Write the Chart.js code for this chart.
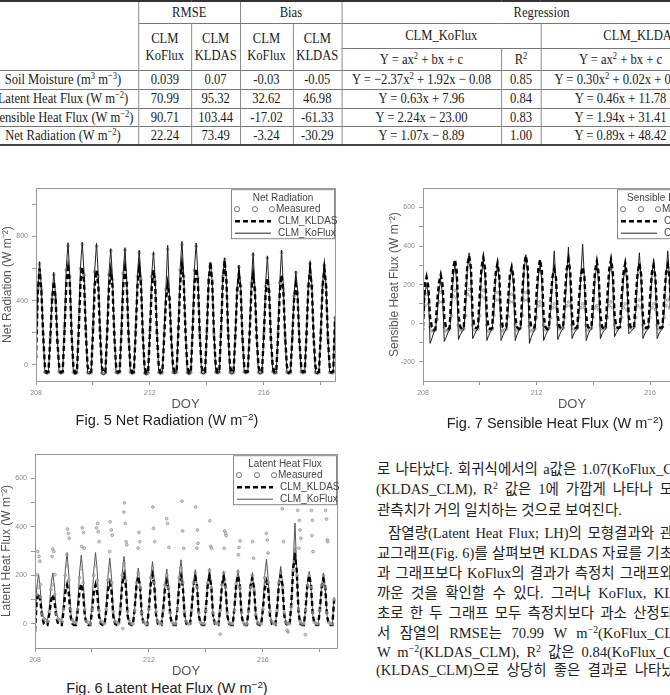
<!DOCTYPE html>
<html>
<head>
<meta charset="utf-8">
<script src="https://cdn.jsdelivr.net/npm/chart.js@4.4.1/dist/chart.umd.min.js"></script>
<style>
html,body{margin:0;padding:0;background:#fff;}
body{width:670px;height:695px;overflow:hidden;position:relative;}
.tbl{position:absolute;left:-12px;top:0;width:897px;border-collapse:collapse;table-layout:fixed;font-family:'Liberation Serif','Times New Roman',serif;font-size:15px;font-weight:normal;color:#1a1a1a;border-top:2px solid #333;border-bottom:2px solid #444;transform:scaleX(0.84);transform-origin:0 0;}
.tbl td{border:1px solid #777;padding:0;text-align:center;vertical-align:middle;white-space:nowrap;line-height:17px;}
.tbl td.lab{border-left:none;}
.tbl td .f{display:flex;justify-content:center;}
sup{font-size:0.68em;vertical-align:0.5em;line-height:0;}
canvas{position:absolute;}
.cap{position:absolute;font-family:'Liberation Sans',Arial,sans-serif;font-size:14.5px;color:#222;white-space:nowrap;transform:translateX(-50%);line-height:16px;}
.kr{position:absolute;font-family:'Liberation Serif','Noto Sans CJK KR',serif;font-size:14.5px;color:#222;white-space:nowrap;line-height:18px;}
.kr.j{text-align:justify;text-align-last:justify;white-space:normal;height:18px;}
</style>
</head>
<body>
<table class="tbl">
<colgroup><col style="width:179px"><col style="width:63px"><col style="width:58px"><col style="width:63px"><col style="width:58px"><col style="width:190px"><col style="width:47px"><col style="width:190px"><col style="width:49px"></colgroup>
<tr style="height:22px"><td class="lab" rowspan="3"></td><td colspan="2">RMSE</td><td colspan="2">Bias</td><td colspan="4">Regression</td></tr>
<tr style="height:25px"><td rowspan="2">CLM<br>KoFlux</td><td rowspan="2">CLM<br>KLDAS</td><td rowspan="2">CLM<br>KoFlux</td><td rowspan="2">CLM<br>KLDAS</td><td colspan="2">CLM_KoFlux</td><td colspan="2">CLM_KLDAS</td></tr>
<tr style="height:22px"><td>Y = ax<sup>2</sup> + bx + c</td><td>R<sup>2</sup></td><td>Y = ax<sup>2</sup> + bx + c</td><td>R<sup>2</sup></td></tr>
<tr style="height:19px"><td class="lab"><div class="f"><span>Soil Moisture (m<sup>3</sup> m<sup>−3</sup>)</span></div></td><td>0.039</td><td>0.07</td><td>-0.03</td><td>-0.05</td><td>Y = −2.37x<sup>2</sup> + 1.92x − 0.08</td><td>0.85</td><td>Y = 0.30x<sup>2</sup> + 0.02x + 0.04</td><td>0.60</td></tr>
<tr style="height:19px"><td class="lab"><div class="f"><span>Latent Heat Flux (W m<sup>−2</sup>)</span></div></td><td>70.99</td><td>95.32</td><td>32.62</td><td>46.98</td><td>Y = 0.63x + 7.96</td><td>0.84</td><td>Y = 0.46x + 11.78</td><td>0.80</td></tr>
<tr style="height:18px"><td class="lab"><div class="f"><span>Sensible Heat Flux (W m<sup>−2</sup>)</span></div></td><td>90.71</td><td>103.44</td><td>-17.02</td><td>-61.33</td><td>Y = 2.24x − 23.00</td><td>0.83</td><td>Y = 1.94x + 31.41</td><td>0.80</td></tr>
<tr style="height:19px"><td class="lab"><div class="f"><span>Net Radiation (W m<sup>−2</sup>)</span></div></td><td>22.24</td><td>73.49</td><td>-3.24</td><td>-30.29</td><td>Y = 1.07x − 8.89</td><td>1.00</td><td>Y = 0.89x + 48.42</td><td>0.98</td></tr>
</table>

<canvas id="c5" width="345" height="232" style="left:0;top:180px"></canvas>
<canvas id="c7" width="344" height="232" style="left:387px;top:180px"></canvas>
<canvas id="c6" width="348" height="233" style="left:-1px;top:446px"></canvas>

<div class="cap" style="left:167px;top:412px">Fig. 5 Net Radiation (W m<sup>−2</sup>)</div>
<div class="cap" style="left:555px;top:415px">Fig. 7 Sensible Heat Flux (W m<sup>−2</sup>)</div>
<div class="cap" style="left:167px;top:680px">Fig. 6 Latent Heat Flux (W m<sup>−2</sup>)</div>

<div class="kr j" style="left:377px;top:460px;width:296px">로 나타났다. 회귀식에서의 a값은 1.07(KoFlux_C</div>
<div class="kr j" style="left:376px;top:480px;width:297px">(KLDAS_CLM), R<sup>2</sup> 값은 1에 가깝게 나타나 모</div>
<div class="kr" style="left:377px;top:501px">관측치가 거의 일치하는 것으로 보여진다.</div>
<div class="kr j" style="left:388px;top:524px;width:285px">잠열량(Latent Heat Flux; LH)의 모형결과와 관</div>
<div class="kr j" style="left:377px;top:544px;width:296px">교그래프(Fig. 6)를 살펴보면 KLDAS 자료를 기초</div>
<div class="kr j" style="left:377px;top:564px;width:296px">과 그래프보다 KoFlux의 결과가 측정치 그래프와</div>
<div class="kr j" style="left:377px;top:584px;width:296px">까운 것을 확인할 수 있다. 그러나 KoFlux, KL</div>
<div class="kr j" style="left:377px;top:604px;width:296px">초로 한 두 그래프 모두 측정치보다 과소 산정되</div>
<div class="kr j" style="left:377px;top:624px;width:296px">서 잠열의 RMSE는 70.99 W m<sup>−2</sup>(KoFlux_CL</div>
<div class="kr j" style="left:377px;top:643px;width:296px">W m<sup>−2</sup>(KLDAS_CLM), R<sup>2</sup> 값은 0.84(KoFlux_C</div>
<div class="kr j" style="left:376px;top:661px;width:312px">(KLDAS_CLM)으로 상당히 좋은 결과로 나타났다</div>

<script>
// ---------- DATA ----------
const doyStart = 208;
const doyStep = 0.0625;
const xTickValues = [208, 210, 212, 214, 216, 218];
const xTickLabels = [208, 212, 216];
const legendNames = ['Measured', 'CLM_KLDAS', 'CLM_KoFlux'];

// Net Radiation (W m-2)
const nrYTicks = [0, 200, 400, 600, 800, 1000];
const nrYLabels = [0, 400, 800];
const nrKoFlux = [
  40, 470, 643, 480, 200, -50, -55, -50,
  170, 420, 577, 430, 160, -48, -52, -50,
  240, 600, 761, 560, 220, -50, -58, -52,
  250, 610, 765, 570, 230, -52, -55, -50,
  240, 590, 759, 560, 220, -55, -60, -52,
  230, 570, 724, 540, 210, -50, -52, -48,
  230, 580, 730, 520, 200, -48, -55, -50,
  220, 560, 714, 540, 210, -55, -62, -52,
  220, 560, 704, 530, 200, -50, -55, -50,
  200, 480, 745, 420, 180, -50, -53, -48,
  240, 600, 769, 560, 220, -52, -58, -50,
  240, 600, 759, 550, 210, -50, -55, -50,
  210, 540, 639, 520, 200, -48, -52, -48,
  220, 560, 667, 530, 190, -50, -55, -50,
  190, 480, 622, 500, 170, -48, -50, -46,
  210, 520, 700, 480, 180, -50, -55, -48,
  200, 500, 679, 470, 170, -45, -52, -50,
  210, 520, 714, 480, 170, -48, -55, -50,
  180, 440, 585, 460, 150, -46, -50, -48,
  200, 500, 643, 500, 180, -50, -55, -50,
  200, 500, 632, 490, 170, -48, -52, -50,
  300
];
const nrKLDAS = [
  40, 450, 600, 470, 190, -10, -45, -42,
  160, 400, 520, 420, 150, -8, -45, -40,
  200, 500, 600, 510, 190, -10, -48, -42,
  210, 510, 610, 520, 200, -10, -46, -42,
  200, 490, 590, 500, 190, -12, -48, -44,
  200, 480, 580, 490, 180, -10, -45, -40,
  200, 490, 600, 500, 180, -8, -46, -42,
  200, 490, 600, 500, 190, -10, -50, -44,
  200, 480, 590, 490, 180, -10, -46, -42,
  170, 400, 500, 420, 160, -8, -45, -40,
  210, 510, 620, 520, 200, -10, -48, -44,
  210, 500, 600, 510, 190, -10, -46, -42,
  210, 520, 640, 520, 190, -8, -45, -40,
  220, 530, 650, 520, 190, -10, -46, -42,
  180, 460, 560, 470, 170, -8, -44, -40,
  180, 460, 560, 460, 170, -10, -46, -42,
  180, 440, 540, 450, 160, -8, -45, -42,
  180, 460, 560, 460, 170, -10, -46, -42,
  170, 410, 500, 420, 150, -8, -44, -40,
  190, 480, 590, 480, 170, -10, -46, -42,
  190, 490, 600, 490, 170, -10, -45, -40,
  290
];
const nrMeasured = [
  50, 480, 630, 470, 190, -45, -50, -48,
  170, 410, 560, 420, 150, -44, -50, -46,
  230, 590, 740, 550, 210, -46, -52, -48,
  240, 600, 750, 560, 220, -48, -52, -48,
  230, 580, 740, 550, 210, -50, -55, -50,
  220, 560, 710, 530, 200, -46, -50, -46,
  220, 570, 715, 510, 195, -45, -52, -48,
  210, 550, 700, 530, 200, -50, -56, -50,
  210, 550, 690, 520, 195, -46, -52, -48,
  190, 470, 720, 410, 175, -46, -50, -46,
  230, 590, 750, 550, 210, -48, -54, -48,
  230, 590, 740, 540, 205, -46, -52, -48,
  200, 530, 630, 510, 195, -45, -50, -46,
  210, 550, 655, 520, 185, -46, -52, -48,
  185, 470, 610, 490, 165, -45, -48, -45,
  200, 510, 685, 470, 175, -46, -52, -46,
  195, 490, 665, 460, 165, -42, -50, -48,
  200, 510, 700, 470, 165, -45, -52, -48,
  175, 430, 575, 450, 145, -44, -48, -46,
  195, 490, 630, 490, 175, -46, -52, -48,
  195, 490, 620, 480, 165, -45, -50, -48,
  295
];

// Sensible Heat Flux (W m-2)
const shYTicks = [-200, -100, 0, 100, 200, 300, 400, 500, 600];
const shYLabels = [-200, 0, 200, 400, 600];
const shKoFlux = [
  -40, 150, 200, 150, -105, -80, -50, -35,
  40, 170, 220, 150, -95, -75, -50, -35,
  60, 240, 300, 220, -85, -60, -45, -30,
  70, 280, 365, 250, -80, -60, -40, -30,
  70, 260, 320, 240, -90, -65, -45, -30,
  60, 240, 300, 220, -90, -65, -45, -30,
  60, 230, 280, 210, -90, -60, -40, -30,
  70, 280, 355, 250, -105, -75, -50, -35,
  60, 240, 300, 220, -90, -65, -45, -30,
  60, 220, 375, 200, -85, -60, -40, -30,
  60, 240, 395, 220, -80, -55, -40, -30,
  60, 250, 410, 230, -90, -60, -40, -30,
  60, 240, 300, 220, -80, -55, -40, -30,
  60, 250, 320, 220, -70, -50, -35, -25,
  60, 230, 290, 210, -55, -45, -35, -25,
  60, 250, 365, 220, -80, -55, -40, -30,
  60, 240, 335, 220, -80, -55, -40, -30,
  60, 250, 375, 220, -75, -55, -40, -30,
  60, 240, 330, 220, -70, -50, -35, -25,
  60, 230, 320, 210, -70, -50, -35, -25,
  60, 240, 340, 220, -70, -50, -35, -25,
  60
];
const shKLDAS = [
  -20, 200, 240, 190, 30, -20, -35, -30,
  110, 210, 250, 200, 30, -25, -30, -25,
  150, 280, 330, 270, 40, -20, -30, -25,
  160, 300, 350, 290, 40, -20, -25, -20,
  150, 290, 340, 280, 40, -25, -30, -25,
  140, 260, 310, 250, 35, -20, -25, -20,
  130, 250, 290, 240, 30, -20, -30, -25,
  160, 300, 350, 290, 40, -20, -25, -20,
  150, 280, 330, 270, 40, -20, -30, -25,
  130, 240, 280, 230, 35, -20, -25, -20,
  150, 280, 330, 270, 40, -20, -25, -20,
  130, 250, 290, 240, 35, -20, -25, -20,
  140, 270, 320, 260, 40, -20, -30, -25,
  150, 280, 330, 270, 40, -20, -25, -20,
  140, 260, 310, 250, 35, -20, -25, -20,
  140, 260, 310, 250, 35, -20, -25, -20,
  130, 260, 300, 240, 35, -20, -25, -20,
  130, 260, 300, 240, 35, -20, -25, -20,
  130, 260, 300, 240, 35, -20, -25, -20,
  130, 260, 300, 240, 35, -20, -25, -20,
  130, 260, 300, 240, 35, -20, -25, -20,
  120
];
const shMeasured = [
  -30, 90, 150, 100, -20, -40, -40, -35,
  20, 110, 160, 110, -20, -40, -35, -30,
  40, 140, 170, 130, -10, -35, -35, -30,
  40, 150, 175, 140, -10, -35, -30, -30,
  40, 140, 170, 130, -10, -40, -35, -30,
  40, 120, 160, 120, -10, -40, -35, -30,
  35, 110, 150, 110, -10, -35, -30, -25,
  40, 120, 160, 120, -15, -40, -35, -30,
  30, 90, 110, 90, -10, -35, -30, -25,
  30, 80, 100, 80, -10, -30, -30, -25,
  30, 90, 110, 90, -10, -30, -30, -25,
  30, 80, 100, 80, -10, -35, -30, -25,
  30, 80, 90, 70, -10, -30, -25, -25,
  30, 90, 110, 80, -10, -30, -25, -20,
  30, 80, 100, 70, -10, -25, -25, -20,
  30, 90, 120, 80, -10, -30, -25, -20,
  30, 80, 100, 70, -10, -30, -25, -20,
  30, 90, 120, 80, -10, -30, -25, -20,
  30, 80, 100, 70, -10, -25, -25, -20,
  30, 80, 100, 70, -10, -25, -25, -20,
  30, 80, 100, 70, -10, -25, -25, -20,
  30
];

// Latent Heat Flux (W m-2)
const lhYTicks = [0, 100, 200, 300, 400, 500, 600];
const lhYLabels = [0, 200, 400, 600];
const lhKoFlux = [
  -40, 150, 205, 140, 40, 25, 20, 15,
  60, 160, 210, 150, 40, 25, 20, 10,
  80, 220, 294, 200, 50, 10, 5, 0,
  80, 210, 284, 200, 40, 5, 0, 0,
  80, 220, 294, 210, 40, 5, 0, 0,
  70, 200, 271, 190, 40, 5, 0, 0,
  70, 210, 278, 190, 40, 5, 0, 0,
  60, 170, 230, 160, 35, 5, 0, 0,
  70, 190, 257, 180, 40, 5, 0, 0,
  60, 170, 226, 160, 35, 5, 0, 0,
  70, 200, 264, 180, 40, 5, 0, 0,
  60, 170, 223, 160, 35, 5, 0, 0,
  60, 175, 230, 160, 35, 5, 0, 0,
  60, 165, 216, 150, 35, 5, 0, 0,
  60, 170, 223, 155, 35, 5, 0, 0,
  55, 155, 203, 145, 30, 5, 0, 0,
  70, 200, 267, 180, 40, 5, 0, 0,
  60, 180, 237, 165, 35, 5, 0, 0,
  80, 250, 416, 220, 50, 5, 0, 0,
  60, 165, 216, 150, 35, 5, 0, 0,
  60, 160, 210, 150, 35, 5, 0, 0,
  110
];
const lhKLDAS = [
  -30, 100, 125, 95, 30, 0, -5, -5,
  40, 95, 120, 90, 25, 0, -5, -5,
  50, 130, 160, 125, 30, 0, -5, -5,
  55, 135, 165, 130, 30, 0, -5, -5,
  50, 130, 160, 125, 30, 0, -5, -5,
  55, 140, 170, 135, 30, 0, -5, -5,
  65, 165, 200, 160, 35, 0, -5, -5,
  65, 160, 195, 155, 35, 0, -5, -5,
  65, 165, 200, 160, 35, 0, -5, -5,
  60, 145, 175, 140, 30, 0, -5, -5,
  65, 160, 195, 155, 35, 0, -5, -5,
  65, 160, 195, 155, 35, 0, -5, -5,
  65, 160, 195, 155, 35, 0, -5, -5,
  65, 160, 195, 155, 35, 0, -5, -5,
  65, 165, 200, 160, 35, 0, -5, -5,
  60, 155, 190, 150, 35, 0, -5, -5,
  60, 145, 175, 140, 30, 0, -5, -5,
  65, 165, 200, 160, 35, 0, -5, -5,
  90, 230, 280, 220, 45, 0, -5, -5,
  65, 165, 200, 160, 35, 0, -5, -5,
  60, 150, 185, 150, 30, 0, -5, -5,
  100
];
const lhMeasured = [
  -30, 120, 150, 110, 40, 20, 15, 10,
  50, 140, 160, 120, 40, 20, 15, 10,
  60, 200, 240, 180, 60, 15, 5, 5,
  60, 190, 230, 170, 60, 10, 5, 0,
  60, 200, 240, 180, 55, 10, 5, 0,
  60, 180, 220, 170, 50, 10, 5, 0,
  60, 200, 250, 180, 50, 10, 0, 0,
  55, 170, 210, 150, 45, 10, 0, 0,
  60, 190, 230, 170, 50, 10, 0, 0,
  55, 160, 200, 150, 45, 5, 0, 0,
  60, 190, 230, 170, 50, 10, 0, 0,
  55, 170, 210, 150, 45, 5, 0, 0,
  55, 170, 220, 150, 45, 5, 0, 0,
  55, 160, 210, 150, 45, 5, 0, 0,
  55, 165, 215, 150, 45, 5, -5, 0,
  50, 150, 200, 140, 40, 5, 0, 0,
  60, 190, 230, 170, 50, 10, 0, 0,
  55, 170, 210, 150, 45, 5, 0, 0,
  70, 220, 300, 200, 60, 10, 0, 0,
  55, 160, 200, 150, 45, 5, 0, 0,
  55, 160, 200, 150, 45, 5, 0, 0,
  100
];
// scattered measured latent heat values (outliers)
const lhExtraDoy = [
  208.10, 208.14, 208.17, 208.08, 208.20,
  208.62, 208.66, 208.60, 208.70,
  209.14, 209.17, 209.20, 209.12,
  209.66, 209.70, 209.64, 209.73,
  210.16, 210.20, 210.22, 210.25,
  210.64, 210.68, 210.71, 210.62,
  211.14, 211.12, 211.17, 211.20, 211.22,
  211.65, 211.68, 211.62,
  212.14, 212.16, 212.20,
  212.62, 212.65, 212.70,
  213.16, 213.18, 213.22,
  213.64, 213.70, 213.72, 213.68,
  214.14, 214.17, 214.20,
  214.66, 214.69, 214.71, 214.64,
  215.16, 215.20, 215.14,
  215.64, 215.67,
  216.12, 216.15, 216.18,
  216.68, 216.72,
  217.22, 217.28, 217.30, 217.33, 217.26,
  217.70, 217.74, 217.72, 217.76,
  218.20, 218.23, 218.26, 218.28,
  211.08, 214.50, 216.85, 216.88, 217.49
];
const lhExtraVal = [
  298, 278, 258, 203, 163,
  309, 298, 278, 203,
  391, 373, 353, 285,
  396, 377, 319, 312,
  396, 414, 380, 339,
  421, 387, 366, 298,
  499, 461, 414, 339, 326,
  377, 339, 312,
  482, 394, 339,
  434, 414, 315,
  506, 383, 312,
  482, 387, 332, 312,
  425, 319, 312,
  383, 373, 364, 312,
  315, 342, 285,
  339, 271,
  373, 346, 292,
  475, 339,
  468, 427, 387, 353, 312,
  468, 427, 364, 298,
  468, 432, 346, 339,
  -20, -43, -27, -34, -45
];

// ---------- BUILD ----------
const FAM = "'Liberation Sans', Arial, sans-serif";
Chart.defaults.font.family = FAM;

function pts(values, extraX, extraY) {
  const out = values.map((v, i) => ({ x: doyStart + i * doyStep, y: v }));
  if (extraX) extraX.forEach((x, i) => out.push({ x: x, y: extraY[i] }));
  return out;
}

const boxLegend = {
  id: 'boxLegend',
  afterDraw(chart, args, opts) {
    const ctx = chart.ctx, a = chart.chartArea;
    const W = 104, H = 50, L = a.right - W, T = a.top + 1;
    ctx.save();
    ctx.fillStyle = '#fff';
    ctx.fillRect(L, T, W, H);
    ctx.strokeStyle = '#888'; ctx.lineWidth = 1;
    ctx.strokeRect(L + 0.5, T + 0.5, W - 1, H - 1);
    ctx.fillStyle = '#444';
    ctx.font = '10px ' + FAM;
    ctx.textBaseline = 'middle';
    ctx.textAlign = 'center';
    ctx.fillText(opts.title, L + 52, T + 9);
    ctx.textAlign = 'left';
    ctx.strokeStyle = '#666'; ctx.lineWidth = 0.9;
    [6, 24, 41].forEach(dx => { ctx.beginPath(); ctx.arc(L + dx, T + 20, 2.6, 0, Math.PI * 2); ctx.stroke(); });
    ctx.fillText(legendNames[0], L + 45, T + 20);
    ctx.strokeStyle = '#000'; ctx.lineWidth = 2.4; ctx.setLineDash([5, 3]);
    ctx.beginPath(); ctx.moveTo(L + 4, T + 32); ctx.lineTo(L + 40, T + 32); ctx.stroke();
    ctx.setLineDash([]); ctx.lineWidth = 1; ctx.strokeStyle = opts.solidColor;
    ctx.beginPath(); ctx.moveTo(L + 4, T + 44); ctx.lineTo(L + 40, T + 44); ctx.stroke();
    ctx.fillText(legendNames[1], L + 47, T + 32);
    ctx.fillText(legendNames[2], L + 47, T + 44);
    ctx.restore();
  }
};
const frame = {
  id: 'frame',
  afterDatasetsDraw(chart) {
    const ctx = chart.ctx, a = chart.chartArea;
    ctx.save();
    ctx.strokeStyle = '#999'; ctx.lineWidth = 1;
    ctx.strokeRect(Math.round(a.left) + 0.5, Math.round(a.top) + 0.5, Math.round(a.width), Math.round(a.height));
    ctx.restore();
  }
};

function makeChart(id, cfg) {
  const solid = cfg.solidColor;
  new Chart(document.getElementById(id), {
    type: 'scatter',
    data: {
      datasets: [
        { label: legendNames[1], data: pts(cfg.kldas), showLine: true, borderColor: '#000', borderWidth: 2.4, borderDash: [5, 3], pointRadius: 0, tension: 0, order: 1 },
        { label: legendNames[2], data: pts(cfg.koflux), showLine: true, borderColor: solid, borderWidth: 1, pointRadius: 0, tension: 0, order: 2 },
        { label: legendNames[0], data: pts(cfg.measured, cfg.extraX, cfg.extraY), showLine: false, pointRadius: 1.4, pointBorderWidth: 0.7, pointBorderColor: '#8a8a8a', pointBackgroundColor: 'rgba(190,190,190,0.6)', order: cfg.measuredOrder }
      ]
    },
    options: {
      responsive: false, animation: false, devicePixelRatio: 1,
      layout: { padding: { top: 6, right: 10, left: 0, bottom: 0 } },
      plugins: { legend: { display: false }, tooltip: { enabled: false }, boxLegend: { title: cfg.title, solidColor: solid } },
      scales: {
        x: {
          type: 'linear', min: 208, max: cfg.xMax,
          afterBuildTicks: s => { s.ticks = xTickValues.map(v => ({ value: v })); },
          afterFit: s => { s.height = 31; },
          ticks: { callback: v => xTickLabels.includes(v) ? String(v) : '', font: { size: 7 }, color: '#888', padding: 4, maxRotation: 0, autoSkip: false },
          grid: { drawOnChartArea: false, drawTicks: true, tickLength: 4, color: '#999' },
          border: { display: false },
          title: { display: true, text: 'DOY', font: { size: 13 }, color: '#555', padding: { top: 0, bottom: 0 } }
        },
        y: {
          type: 'linear', min: cfg.yMin, max: cfg.yMax,
          afterBuildTicks: s => { s.ticks = cfg.yTicks.map(v => ({ value: v })); },
          afterFit: s => { s.width = 36; },
          ticks: { callback: v => cfg.yLabels.includes(v) ? String(v) : '', font: { size: 7 }, color: '#888', padding: 4, autoSkip: false },
          grid: { drawOnChartArea: false, drawTicks: true, tickLength: 4, color: '#999' },
          border: { display: false },
          title: { display: true, text: cfg.yTitle, font: { size: 12 }, color: '#555', padding: { top: 0, bottom: 2 } }
        }
      }
    },
    plugins: [frame, boxLegend]
  });
}

makeChart('c5', { title: 'Net Radiation', yTitle: 'Net Radiation (W m⁻²)', yMin: -100, yMax: 1100, yTicks: nrYTicks, yLabels: nrYLabels, xMax: 218.5,
  koflux: nrKoFlux, kldas: nrKLDAS, measured: nrMeasured, solidColor: '#222', measuredOrder: 3 });
makeChart('c7', { title: 'Sensible Heat Flux', yTitle: 'Sensible Heat Flux (W m⁻²)', yMin: -300, yMax: 700, yTicks: shYTicks, yLabels: shYLabels, xMax: 218.5,
  koflux: shKoFlux, kldas: shKLDAS, measured: shMeasured, solidColor: '#222', measuredOrder: 3 });
makeChart('c6', { title: 'Latent Heat Flux', yTitle: 'Latent Heat Flux (W m⁻²)', yMin: -100, yMax: 700, yTicks: lhYTicks, yLabels: lhYLabels, xMax: 218.6,
  koflux: lhKoFlux, kldas: lhKLDAS, measured: lhMeasured, extraX: lhExtraDoy, extraY: lhExtraVal, solidColor: '#555', measuredOrder: 0 });
</script>
</body>
</html>
